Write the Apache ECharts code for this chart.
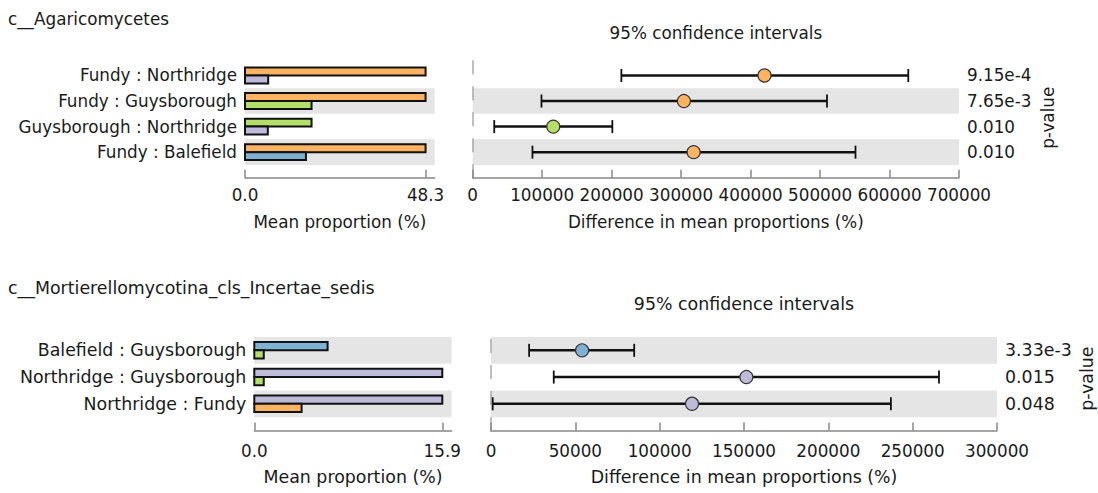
<!DOCTYPE html>
<html>
<head>
<meta charset="utf-8">
<script src="https://cdn.jsdelivr.net/npm/echarts@6/dist/echarts.min.js"></script>
<style>
  html, body { margin: 0; padding: 0; background: #fff; }
  #main { width: 1098px; height: 493px; }
</style>
</head>
<body>
<div id="main"></div>
<script>
// ---------------- DATA ----------------
const topTitle = 'c__Agaricomycetes';
const topCategories = ['Fundy : Northridge', 'Fundy : Guysborough', 'Guysborough : Northridge', 'Fundy : Balefield'];
const topGroup1 = ['Fundy', 'Fundy', 'Guysborough', 'Fundy'];
const topGroup2 = ['Northridge', 'Guysborough', 'Northridge', 'Balefield'];
const topMean1 = [48.3, 48.3, 17.8, 48.3];
const topMean2 = [6.2, 17.8, 6.1, 16.3];
const topDiff = [420000, 304000, 116000, 318000];
const topCiLow = [214000, 99000, 31000, 86000];
const topCiHigh = [627000, 510000, 201000, 551000];
const topPValues = ['9.15e-4', '7.65e-3', '0.010', '0.010'];
const topBarTicks = [0, 48.3];
const topCiTicks = [0, 100000, 200000, 300000, 400000, 500000, 600000, 700000];

const botTitle = 'c__Mortierellomycotina_cls_Incertae_sedis';
const botCategories = ['Balefield : Guysborough', 'Northridge : Guysborough', 'Northridge : Fundy'];
const botGroup1 = ['Balefield', 'Northridge', 'Northridge'];
const botGroup2 = ['Guysborough', 'Guysborough', 'Fundy'];
const botMean1 = [6.2, 15.9, 15.9];
const botMean2 = [0.8, 0.8, 4.0];
const botDiff = [54000, 151400, 119200];
const botCiLow = [22600, 37200, 1000];
const botCiHigh = [84900, 265600, 237100];
const botPValues = ['3.33e-3', '0.015', '0.048'];
const botBarTicks = [0, 15.9];
const botCiTicks = [0, 50000, 100000, 150000, 200000, 250000, 300000];

// ---------------- STYLE / LAYOUT ----------------
const SITE_COLORS = { Fundy: '#FDB462', Northridge: '#BEBADA', Guysborough: '#B3DE69', Balefield: '#80B1D3' };
const FONT = 'DejaVu Sans';
const FS_TICK = 16.8;
const TXT = '#1a1a1a';
const AXIS_COLOR = '#888';
const BAND = '#E5E5E5';
const BAR_H = 0.31;

const panels = [
  {
    title: topTitle, cats: topCategories, g1: topGroup1, g2: topGroup2, m1: topMean1, m2: topMean2,
    diff: topDiff, lo: topCiLow, hi: topCiHigh, p: topPValues, barTicks: topBarTicks, ciTicks: topCiTicks,
    layout: { top: 57.85, height: 119.85, barLeft: 245, barWidth: 189.6, ciLeft: 472.7, ciWidth: 486.3,
              yMax: 3.69, titleY: 19, ciTitleY: 33, tickMargin: 9, nameGap: 36, pNameGap: 80, fs: 16.8 }
  },
  {
    title: botTitle, cats: botCategories, g1: botGroup1, g2: botGroup2, m1: botMean1, m2: botMean2,
    diff: botDiff, lo: botCiLow, hi: botCiHigh, p: botPValues, barTicks: botBarTicks, ciTicks: botCiTicks,
    layout: { top: 326.8, height: 103.7, barLeft: 254.3, barWidth: 197.4, ciLeft: 491, ciWidth: 506,
              yMax: 2.88, titleY: 288, ciTitleY: 304, tickMargin: 12, nameGap: 38, pNameGap: 81, fs: 17.4 }
  }
];

const option = {
  animation: false,
  textStyle: { fontFamily: FONT },
  grid: [], xAxis: [], yAxis: [], series: [], graphic: []
};

panels.forEach((P) => {
  const L = P.layout;
  const FS = L.fs;
  const n = P.cats.length;
  const rowY = P.cats.map((_, i) => n - 1 - i);
  const gBar = option.grid.length;
  const gCi = gBar + 1;
  option.grid.push(
    { left: L.barLeft, top: L.top, width: L.barWidth, height: L.height, outerBoundsMode: 'none', containLabel: false },
    { left: L.ciLeft, top: L.top, width: L.ciWidth, height: L.height, outerBoundsMode: 'none', containLabel: false }
  );
  const xBar = option.xAxis.length;
  const xCi = xBar + 1;
  const axLine = { show: true, onZero: false, lineStyle: { color: AXIS_COLOR, width: 1.5 } };
  const barMax = P.barTicks[P.barTicks.length - 1] * 1.05;
  option.xAxis.push(
    {
      type: 'value', gridIndex: gBar, min: 0, max: barMax, position: 'bottom',
      axisLine: axLine,
      axisTick: { show: true, inside: true, length: 8, customValues: P.barTicks, lineStyle: { color: AXIS_COLOR, width: 1.5 } },
      axisLabel: { customValues: P.barTicks, formatter: (v) => Number(v).toFixed(1), margin: L.tickMargin, fontSize: FS_TICK, color: TXT, fontFamily: FONT },
      splitLine: { show: false },
      name: 'Mean proportion (%)', nameLocation: 'middle', nameGap: L.nameGap,
      nameTextStyle: { fontSize: FS, color: TXT, fontFamily: FONT }
    },
    {
      type: 'value', gridIndex: gCi, min: P.ciTicks[0], max: P.ciTicks[P.ciTicks.length - 1], position: 'bottom',
      interval: P.ciTicks[1] - P.ciTicks[0],
      axisLine: axLine,
      axisTick: { show: true, inside: true, length: 8, lineStyle: { color: AXIS_COLOR, width: 1.5 } },
      axisLabel: { formatter: (v) => String(v), margin: L.tickMargin, fontSize: FS_TICK, color: TXT, fontFamily: FONT },
      splitLine: { show: false },
      name: 'Difference in mean proportions (%)', nameLocation: 'middle', nameGap: L.nameGap,
      nameTextStyle: { fontSize: FS, color: TXT, fontFamily: FONT }
    }
  );
  const yBar = option.yAxis.length;
  const yCi = yBar + 1;
  const catFmt = (v) => { const i = n - 1 - Math.round(v); return P.cats[i] || ''; };
  const pFmt = (v) => { const i = n - 1 - Math.round(v); return P.p[i] || ''; };
  option.yAxis.push(
    {
      type: 'value', gridIndex: gBar, min: -1, max: L.yMax,
      axisLine: { show: false, onZero: false }, axisTick: { show: false }, splitLine: { show: false },
      axisLabel: { customValues: rowY, formatter: catFmt, margin: 8, fontSize: FS, color: TXT, fontFamily: FONT }
    },
    {
      type: 'value', gridIndex: gCi, min: -1, max: L.yMax, position: 'left',
      axisLine: { show: true, onZero: false, lineStyle: { color: '#aaa', width: 1.5, type: [13, 13] } },
      axisTick: { show: false }, splitLine: { show: false }, axisLabel: { show: false }
    },
    {
      type: 'value', gridIndex: gCi, position: 'right', min: -1, max: L.yMax,
      axisLine: { show: false, onZero: false }, axisTick: { show: false }, splitLine: { show: false },
      axisLabel: { customValues: rowY, formatter: pFmt, margin: 8, fontSize: FS, color: TXT, fontFamily: FONT },
      name: 'p-value', nameLocation: 'middle', nameRotate: 90, nameGap: L.pNameGap,
      nameTextStyle: { fontSize: FS, color: TXT, fontFamily: FONT }
    }
  );

  const bandData = rowY.filter((y) => y % 2 === 0).map((y) => [0, y]);
  const bandRender = (params, api) => {
    const cs = params.coordSys;
    const y = api.value(1);
    const t = api.coord([0, y + 0.5])[1];
    const b = api.coord([0, y - 0.5])[1];
    return { type: 'rect', shape: { x: cs.x, y: t, width: cs.width, height: b - t }, style: { fill: BAND } };
  };
  option.series.push(
    { type: 'custom', xAxisIndex: xBar, yAxisIndex: yBar, data: bandData, renderItem: bandRender, silent: true, z: 0 },
    { type: 'custom', xAxisIndex: xCi, yAxisIndex: yCi, data: bandData, renderItem: bandRender, silent: true, z: 0 }
  );

  const barRender = (params, api) => {
    const v = api.value(0), y = api.value(1), slot = api.value(2);
    const base = api.coord([0, y]);
    const end = api.coord([v, y]);
    const h = api.size([0, BAR_H])[1];
    return {
      type: 'rect',
      shape: { x: base[0], y: slot === 0 ? base[1] - h : base[1], width: end[0] - base[0], height: h },
      style: { fill: api.visual('color'), stroke: '#111', lineWidth: 2 }
    };
  };
  const barData = [];
  P.m1.forEach((v, i) => barData.push({ value: [v, rowY[i], 0], itemStyle: { color: SITE_COLORS[P.g1[i]] } }));
  P.m2.forEach((v, i) => barData.push({ value: [v, rowY[i], 1], itemStyle: { color: SITE_COLORS[P.g2[i]] } }));
  option.series.push({
    type: 'custom', xAxisIndex: xBar, yAxisIndex: yBar, data: barData, renderItem: barRender, z: 2,
    encode: { x: 0, y: 1 }
  });

  const errRender = (params, api) => {
    const y = api.value(2);
    const a = api.coord([api.value(0), y]);
    const b = api.coord([api.value(1), y]);
    const cap = 6.5;
    return {
      type: 'group',
      children: [
        { type: 'line', shape: { x1: a[0], y1: a[1], x2: b[0], y2: b[1] }, style: { stroke: '#111', lineWidth: 2.5 } },
        { type: 'line', shape: { x1: a[0], y1: a[1] - cap, x2: a[0], y2: a[1] + cap }, style: { stroke: '#111', lineWidth: 1.8 } },
        { type: 'line', shape: { x1: b[0], y1: b[1] - cap, x2: b[0], y2: b[1] + cap }, style: { stroke: '#111', lineWidth: 1.8 } }
      ]
    };
  };
  option.series.push({
    type: 'custom', xAxisIndex: xCi, yAxisIndex: yCi,
    data: P.lo.map((lo, i) => [lo, P.hi[i], rowY[i]]),
    encode: { x: [0, 1], y: 2 },
    renderItem: errRender, z: 3
  });
  option.series.push({
    type: 'scatter', xAxisIndex: xCi, yAxisIndex: yCi, symbol: 'circle', symbolSize: 13, z: 5,
    itemStyle: { borderColor: '#333', borderWidth: 1.2, opacity: 1 },
    data: P.diff.map((d, i) => ({ value: [d, rowY[i]], itemStyle: { color: SITE_COLORS[P.g1[i]] } }))
  });

  option.graphic.push(
    { type: 'text', x: 8, y: L.titleY, style: { text: P.title, font: FS + 'px "' + FONT + '"', fill: TXT, align: 'left', verticalAlign: 'middle' } },
    { type: 'text', x: L.ciLeft + L.ciWidth / 2, y: L.ciTitleY, style: { text: '95% confidence intervals', font: FS + 'px "' + FONT + '"', fill: TXT, align: 'center', verticalAlign: 'middle' } }
  );
});

const chart = echarts.init(document.getElementById('main'), null, { renderer: 'svg' });
chart.setOption(option);
</script>
</body>
</html>
